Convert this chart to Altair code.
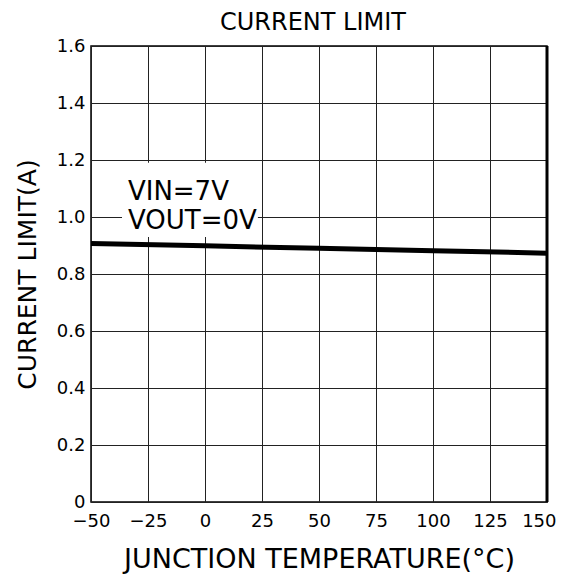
import altair as alt
import pandas as pd

# data
temps = [-50, 0, 50, 100, 150]
ilim = [0.907, 0.899, 0.890, 0.882, 0.873]
x_ticks = [-50, -25, 0, 25, 50, 75, 100, 125, 150]
y_ticks = [0, 0.2, 0.4, 0.6, 0.8, 1.0, 1.2, 1.4, 1.6]
notes = ["VIN=7V", "VOUT=0V"]
note_y = [1.060, 0.958]
note_x = [-33.8, -33.8]
box_x = [-36.4]
box_x2 = [23.2]
box_y = [0.93]
box_y2 = [1.19]

FONT = "DejaVu Sans"

df = pd.DataFrame({"t": temps, "i": ilim})
df_notes = pd.DataFrame({"t": note_x, "i": note_y, "s": notes})
df_box = pd.DataFrame({"t": box_x, "t2": box_x2, "i": box_y, "i2": box_y2})
df_edge = pd.DataFrame({"t": [150]})

xs = alt.Scale(domain=[-50, 150], nice=False, zero=False)
ys = alt.Scale(domain=[0, 1.6], nice=False, zero=False)

XT = "JUNCTION  TEMPERATURE(°C)"
YT = "CURRENT LIMIT(A)"

xaxis = alt.Axis(
    values=x_ticks, title=XT, grid=True,
    gridColor="#222222", gridWidth=1, domain=False, ticks=False,
    labelPadding=10, labelFontSize=18, labelColor="black", labelFont=FONT,
    labelFlush=False, labelOverlap=False,
    labelAlign=alt.ConditionalAxisLabelAlign(
        condition={"test": "datum.value == 150", "value": "right"}, value="center"),
    labelOffset=alt.ConditionalAxisNumber(
        condition={"test": "datum.value == 150", "value": 9}, value=0),
    titleFontSize=27, titleFontWeight="normal", titleColor="black", titleFont=FONT,
    titleY=65, titleBaseline="alphabetic", titleAnchor="middle",
)
yaxis = alt.Axis(
    values=y_ticks, title=YT, grid=True,
    gridColor="#222222", gridWidth=1, domain=False, ticks=False,
    labelPadding=6, labelFontSize=18, labelColor="black", labelFont=FONT,
    labelFlush=False, labelOverlap=False,
    labelExpr="datum.value == 0 ? '0' : format(datum.value, '.1f')",
    titleFontSize=25, titleFontWeight="normal", titleColor="black", titleFont=FONT,
    titleX=-56, titleY=228, titleAngle=270, titleBaseline="alphabetic",
    titleAlign="center",
)

line = alt.Chart(df).mark_line(color="black", strokeWidth=5).encode(
    x=alt.X("t:Q", scale=xs, axis=xaxis, title=XT),
    y=alt.Y("i:Q", scale=ys, axis=yaxis, title=YT),
)

box = alt.Chart(df_box).mark_rect(fill="white").encode(
    x=alt.X("t:Q", scale=xs, title=XT), x2="t2:Q",
    y=alt.Y("i:Q", scale=ys, title=YT), y2="i2:Q",
)

text = alt.Chart(df_notes).mark_text(
    align="left", baseline="alphabetic", fontSize=26, font=FONT, color="black"
).encode(
    x=alt.X("t:Q", scale=xs, title=XT),
    y=alt.Y("i:Q", scale=ys, title=YT),
    text="s:N",
)

edge = alt.Chart(df_edge).mark_rule(color="black", strokeWidth=3).encode(
    x=alt.X("t:Q", scale=xs, title=XT),
)

chart = alt.layer(box, text, line, edge).properties(
    width=456, height=456,
    autosize=alt.AutoSizeParams(type="none"),
    padding={"left": 83, "top": 38, "right": 10, "bottom": 74},
    title=alt.Title("CURRENT  LIMIT", fontSize=24, fontWeight="normal", font=FONT,
                    color="black", offset=14, dy=12, anchor="middle", dx=-6),
).configure(font=FONT, background="white").configure_view(stroke="black", strokeWidth=1.5)

chart.save("out.html", embed_options={"renderer": "svg", "actions": False})
